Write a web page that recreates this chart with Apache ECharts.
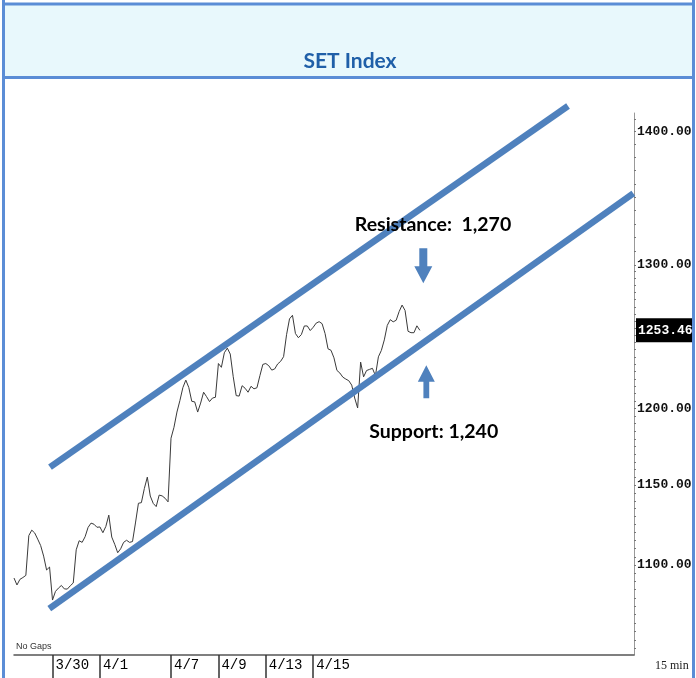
<!DOCTYPE html>
<html><head><meta charset="utf-8">
<script src="https://cdn.jsdelivr.net/npm/echarts@6/dist/echarts.min.js"></script>
<style>html,body{margin:0;padding:0;background:#fff;}#c{width:696px;height:678px;}</style>
</head><body><div id="c"></div>
<script>
// ---- data ----
const dateTicks = [0, 2, 5, 7, 9, 11];            // trading-day index (3/30 = 0)
const dateLabels = ['3/30', '4/1', '4/7', '4/9', '4/13', '4/15'];
const priceTickValues = [1100, 1150, 1200, 1300, 1400];
const lastPrice = 1253.46;
const priceStartDay = -1.625;                      // first sample (day index)
const slotsPerDay = 8;                             // samples per trading day
const priceValues = [
  1092.0, 1087.8, 1091.2, 1092.3, 1093.6, 1118.1, 1121.5, 1119.7, 1115.9, 1111.9,
  1105.4, 1096.9, 1098.7, 1078.7, 1083.9, 1085.9, 1087.5, 1085.4, 1085.3, 1087.3,
  1089.0, 1109.3, 1114.9, 1113.9, 1117.4, 1123.2, 1125.9, 1125.2, 1123.3, 1123.5,
  1119.9, 1123.8, 1130.9, 1117.2, 1112.7, 1107.5, 1109.9, 1113.9, 1115.2, 1113.9,
  1114.4, 1126.0, 1138.4, 1138.8, 1147.8, 1155.1, 1143.0, 1138.3, 1136.3, 1143.6,
  1143.1, 1141.6, 1139.3, 1180.4, 1187.6, 1197.7, 1205.4, 1214.1, 1219.2, 1214.2,
  1204.9, 1204.5, 1197.7, 1203.7, 1211.0, 1208.0, 1204.7, 1207.1, 1207.6, 1230.5,
  1227.9, 1237.9, 1241.1, 1237.0, 1221.5, 1208.7, 1208.4, 1215.4, 1213.7, 1211.0,
  1215.0, 1213.3, 1214.0, 1222.2, 1229.9, 1230.5, 1229.0, 1226.0, 1226.8, 1230.2,
  1232.0, 1235.2, 1250.4, 1261.5, 1264.0, 1251.2, 1248.3, 1250.5, 1256.5, 1256.5,
  1253.3, 1255.6, 1258.5, 1259.5, 1258.1, 1251.2, 1240.6, 1239.6, 1234.4, 1225.8,
  1224.0, 1221.2, 1219.9, 1218.8, 1215.8, 1207.1, 1200.4, 1231.5, 1221.4, 1225.7,
  1226.5, 1227.2, 1222.2, 1235.1, 1239.5, 1246.8, 1256.9, 1260.9, 1259.4, 1260.5,
  1266.6, 1271.2, 1267.4, 1252.8, 1251.8, 1251.8, 1256.6, 1253.46
];
const resistanceLine = [[-0.106, 1161.5], [21.751, 1420.2]];
const supportLine = [[-0.136, 1073.6], [24.506, 1352.8]];
const resistanceText = 'Resistance:  1,270';
const resistanceTextAt = [16.054, 1329.4];
const resistanceArrowAt = [15.645, 1299.3];
const supportText = 'Support: 1,240';
const supportTextAt = [16.084, 1184.6];
const supportArrowAt = [15.772, 1218.1];

// ---- derived ----
const priceData = priceValues.map((v, i) => [priceStartDay + i / slotsPerDay, v]);
const minorTicks = [];
for (let v = 1050; v <= 1300; v += 5) minorTicks.push(v);
for (let v = 1310; v <= 1410; v += 10) minorTicks.push(v);

const BLUE = '#4f81bd';
const FRAME = '#5b8dd6';
const downArrow = 'path://M5,0 L13,0 L13,18 L18,18 L9,35 L0,18 L5,18 Z';
const upArrow = 'path://M8.5,0 L17,16.5 L11.4,16.5 L11.4,33 L5.6,33 L5.6,16.5 L0,16.5 Z';
const textPoint = (txt, coord) => ({
  coord: coord, symbol: 'rect', symbolSize: 1,
  itemStyle: { color: 'rgba(0,0,0,0)' },
  label: { show: true, position: 'inside', formatter: txt, color: '#000',
           fontFamily: 'Lato', fontWeight: 'bold', fontSize: 19.5 }
});

const chart = echarts.init(document.getElementById('c'), null, { renderer: 'canvas' });
chart.setOption({
  animation: false,
  backgroundColor: '#fff',
  grid: { left: 14, right: 62, top: 113, bottom: 23, outerBoundsMode: 'none', containLabel: false },
  xAxis: {
    type: 'value', min: -1.625, max: 24.535,
    splitLine: { show: false },
    axisLine: { show: true, onZero: false, lineStyle: { color: '#555', width: 1.5 } },
    axisTick: { show: true, customValues: dateTicks, length: 24, lineStyle: { color: '#333', width: 1.5 } },
    axisLabel: {
      show: true, customValues: dateTicks, align: 'left', margin: 3, padding: [0, 0, 0, 3],
      fontFamily: 'Liberation Mono', fontSize: 14, color: '#000',
      formatter: v => dateLabels[dateTicks.indexOf(Math.round(v))] || ''
    }
  },
  yAxis: {
    type: 'log', logBase: 10, min: 1046.2, max: 1414.65, position: 'right',
    splitLine: { show: false },
    axisLine: { show: true, onZero: false, lineStyle: { color: '#999', width: 1 } },
    axisTick: { show: true, customValues: minorTicks, length: 2, inside: false, lineStyle: { color: '#777', width: 1 } },
    axisLabel: {
      show: true, customValues: priceTickValues, margin: 3,
      fontFamily: 'Liberation Mono', fontWeight: 'bold', fontSize: 13, color: '#111',
      formatter: v => Number(v).toFixed(2)
    }
  },
  series: [
    {
      type: 'line', name: 'SET', data: priceData, showSymbol: false, symbol: 'none',
      lineStyle: { color: '#3a3a3a', width: 1 }, z: 3,
      markLine: {
        silent: true, symbol: ['none', 'none'],
        lineStyle: { color: 'rgba(0,0,0,0)', width: 0, type: 'solid' },
        label: { show: true, position: 'end', distance: 2, formatter: lastPrice.toFixed(2),
                 backgroundColor: '#000', color: '#fff', padding: [6, 2, 5, 2],
                 fontFamily: 'Liberation Mono', fontWeight: 'bold', fontSize: 13 },
        data: [{ yAxis: lastPrice }]
      }
    },
    {
      type: 'line', name: 'Resistance', data: resistanceLine, showSymbol: false, symbol: 'none',
      clip: false, lineStyle: { color: BLUE, width: 6.5, cap: 'butt' }, z: 4
    },
    {
      type: 'line', name: 'Support', data: supportLine, showSymbol: false, symbol: 'none',
      clip: false, lineStyle: { color: BLUE, width: 6.5, cap: 'butt' }, z: 4,
      markPoint: {
        silent: true,
        data: [
          { coord: resistanceArrowAt, symbol: downArrow, symbolSize: [18, 35], itemStyle: { color: BLUE }, label: { show: false } },
          { coord: supportArrowAt, symbol: upArrow, symbolSize: [17, 33], itemStyle: { color: BLUE }, label: { show: false } },
          textPoint(resistanceText, resistanceTextAt),
          textPoint(supportText, supportTextAt)
        ]
      }
    }
  ],
  graphic: [
    { type: 'rect', shape: { x: 3, y: 4, width: 690, height: 73 }, style: { fill: '#e8f8fc' }, z: 0 },
    { type: 'line', shape: { x1: 3.5, y1: 0, x2: 3.5, y2: 678 }, style: { stroke: FRAME, lineWidth: 3 }, z: 10 },
    { type: 'line', shape: { x1: 693.5, y1: 0, x2: 693.5, y2: 678 }, style: { stroke: FRAME, lineWidth: 3 }, z: 10 },
    { type: 'line', shape: { x1: 2, y1: 4, x2: 695, y2: 4 }, style: { stroke: FRAME, lineWidth: 3 }, z: 10 },
    { type: 'line', shape: { x1: 2, y1: 77.5, x2: 695, y2: 77.5 }, style: { stroke: FRAME, lineWidth: 3 }, z: 10 },
    { type: 'text', x: 350, y: 61, style: { text: 'SET Index', fill: '#1f5fa8', font: 'bold 21px Lato', align: 'center', verticalAlign: 'middle' }, z: 10 },
    { type: 'text', x: 16, y: 647, style: { text: 'No Gaps', fill: '#333', font: '9px "Liberation Sans"', align: 'left', verticalAlign: 'middle' }, z: 10 },
    { type: 'text', x: 655, y: 666, style: { text: '15 min', fill: '#222', font: '12px "Liberation Serif"', align: 'left', verticalAlign: 'middle' }, z: 10 }
  ]
});
</script></body></html>
